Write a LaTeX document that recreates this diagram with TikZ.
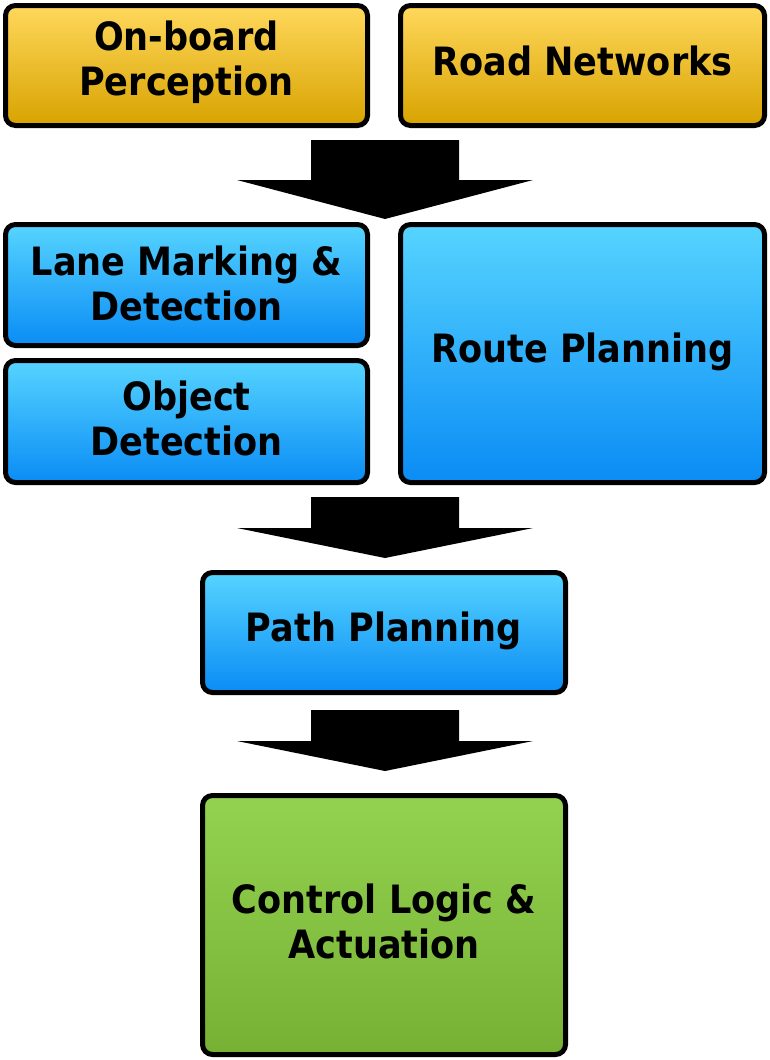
\documentclass[tikz,border=0pt]{standalone}
\usepackage{fontspec}
\setmainfont{DejaVu Sans}[FakeStretch=0.9]
\begin{document}
\begin{tikzpicture}[x=1pt,y=-1pt,
  box/.style={draw=black, line width=5pt, rounded corners=10pt, inner sep=0pt},
  txt/.style={align=center, inner sep=0pt, font=\fontsize{39}{45}\bfseries\selectfont, text=black},
  yel/.style={top color=yel1, bottom color=yel2},
  blu/.style={top color=blu1, bottom color=blu2},
  grn/.style={top color=grn1, bottom color=grn2},
  blockarrow/.style={fill=black, draw=none}]
\definecolor{yel1}{HTML}{FFD85C}
\definecolor{yel2}{HTML}{D8A300}
\definecolor{blu1}{HTML}{56D4FF}
\definecolor{blu2}{HTML}{0A8CF5}
\definecolor{grn1}{HTML}{93D251}
\definecolor{grn2}{HTML}{77B133}
\useasboundingbox (0,0) rectangle (770,1060);
\node[box,yel,minimum width=362pt,minimum height=120pt] (onb) at (186.5,65.5) {};
\node[box,yel,minimum width=364pt,minimum height=120pt] (road) at (582.5,65.5) {};
\node[box,blu,minimum width=362pt,minimum height=121pt] (lane) at (186.5,285) {};
\node[box,blu,minimum width=362pt,minimum height=122pt] (obj) at (186.5,421.5) {};
\node[box,blu,minimum width=364pt,minimum height=258pt] (route) at (582.5,353.5) {};
\node[box,blu,minimum width=363pt,minimum height=120pt] (path) at (384,632.5) {};
\node[box,grn,minimum width=363pt,minimum height=259pt] (ctrl) at (384,925) {};
\node[txt] (onbt) at ([yshift=3pt]onb.center) {On-board\\Perception};
\node[txt] (roadt) at ([yshift=5pt]road.center) {Road Networks};
\node[txt] (lanet) at ([yshift=2pt]lane.center) {Lane Marking \&\\Detection};
\node[txt] (objt) at ([yshift=3pt]obj.center) {Object\\Detection};
\node[txt] (routet) at ([yshift=2pt]route.center) {Route Planning};
\node[txt] (patht) at ([yshift=2pt]path.center) {Path Planning};
\node[txt] (ctrlt) at ([yshift=4pt]ctrl.center) {Control Logic \&\\Actuation};
% block arrows
\fill[blockarrow] (311,140) -- (459,140) -- (459,180) -- (533,180) -- (385,219) -- (237,180) -- (311,180) -- cycle;
\fill[blockarrow] (311,497) -- (459,497) -- (459,528) -- (533,528) -- (385,558) -- (237,528) -- (311,528) -- cycle;
\fill[blockarrow] (311,710) -- (459,710) -- (459,741) -- (533,741) -- (385,771) -- (237,741) -- (311,741) -- cycle;
\end{tikzpicture}
\end{document}
